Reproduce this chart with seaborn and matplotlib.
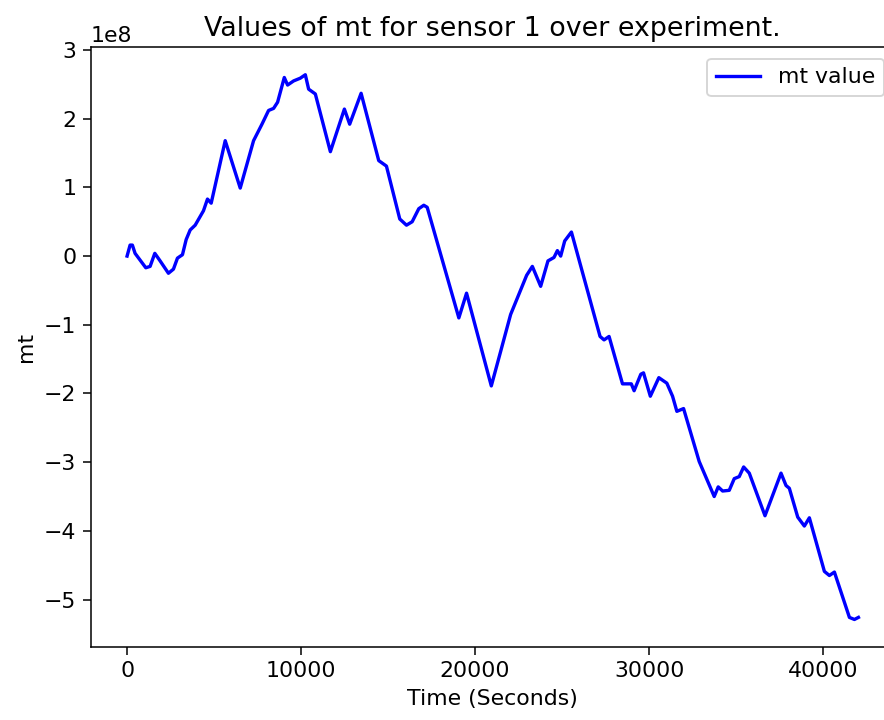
import matplotlib
matplotlib.use("Agg")
import matplotlib.pyplot as plt
import seaborn as sns
import numpy as np
import pandas as pd

# Time stamps (seconds) and mt values (units of 1e8) for sensor 1
time_s = [0, 173, 305, 460, 1076, 1324, 1594, 1899, 2377, 2665, 2895, 3183,
          3396, 3626, 3914, 4391, 4621, 4834, 5640, 6503, 7269, 7752, 8132,
          8420, 8650, 9035, 9225, 9571, 9956, 10244, 10434, 10819, 11683,
          12488, 12793, 13449, 14462, 14905, 15671, 16056, 16384, 16764,
          17052, 17248, 19066, 19509, 20931, 21466, 22042, 22962, 23290,
          23768, 24188, 24534, 24729, 24919, 25149, 25535, 27181, 27411,
          27699, 28470, 28976, 29138, 29523, 29678, 30070, 30559, 31019,
          31347, 31595, 31980, 32878, 33741, 33971, 34225, 34605, 34893,
          35180, 35433, 35756, 36659, 37580, 37868, 38058, 38541, 38921,
          39209, 40072, 40360, 40648, 41511, 41799, 42029]
mt_e8 = [0.0, 0.16, 0.16, 0.04, -0.17, -0.15, 0.04, -0.07, -0.25, -0.19,
         -0.03, 0.02, 0.24, 0.38, 0.45, 0.66, 0.83, 0.77, 1.68, 0.99, 1.68,
         1.92, 2.12, 2.15, 2.24, 2.60, 2.49, 2.55, 2.59, 2.64, 2.43, 2.36,
         1.52, 2.14, 1.92, 2.37, 1.39, 1.31, 0.54, 0.45, 0.50, 0.69, 0.74,
         0.71, -0.90, -0.54, -1.89, -1.39, -0.85, -0.28, -0.15, -0.44, -0.07,
         -0.02, 0.08, 0.0, 0.22, 0.35, -1.17, -1.22, -1.17, -1.86, -1.86,
         -1.96, -1.72, -1.70, -2.04, -1.77, -1.85, -2.04, -2.26, -2.22,
         -2.99, -3.50, -3.36, -3.42, -3.41, -3.24, -3.21, -3.07, -3.16,
         -3.78, -3.16, -3.34, -3.38, -3.80, -3.93, -3.81, -4.59, -4.65,
         -4.60, -5.26, -5.29, -5.26]

df = pd.DataFrame({"time": time_s, "mt": np.array(mt_e8) * 1e8})

plt.rcParams["font.size"] = 11.5
plt.rcParams["xtick.major.size"] = 4
plt.rcParams["ytick.major.size"] = 4

DPI = 138
fig = plt.figure(figsize=(884 / DPI, 720 / DPI), dpi=DPI)
ax = fig.add_axes([90.5 / 884, 73.3 / 720, (895 - 90.5) / 884, (672.5 - 73.3) / 720])

sns.lineplot(data=df, x="time", y="mt", color="blue", label="mt value",
             ax=ax, linewidth=1.75, sort=False)

ax.set_title("Values of mt for sensor 1 over experiment.", fontsize=14)
ax.set_xlabel("Time (Seconds)")
ax.set_ylabel("mt")
ax.legend(loc="upper right")

fig.savefig("out.png", dpi=DPI)
